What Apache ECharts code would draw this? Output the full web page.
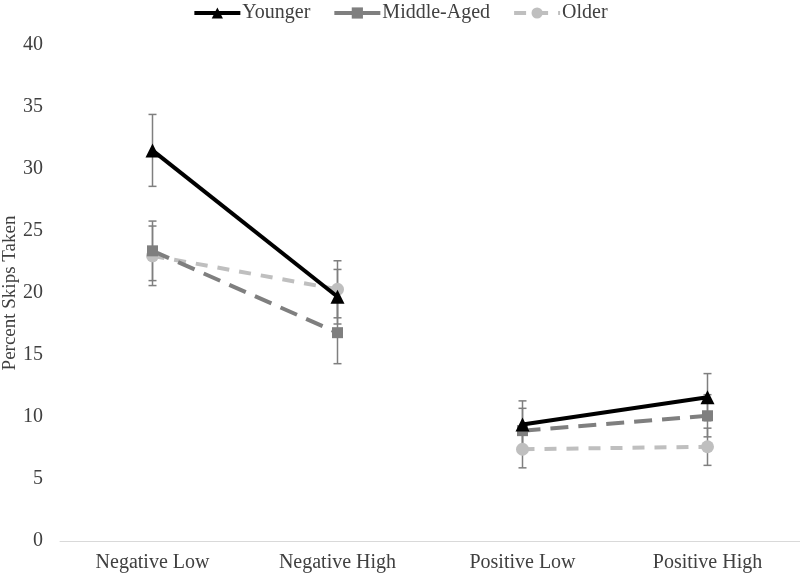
<!DOCTYPE html>
<html>
<head>
<meta charset="utf-8">
<script src="https://cdn.jsdelivr.net/npm/echarts@6/dist/echarts.min.js"></script>
<style>html,body{margin:0;padding:0;background:#fff;}#c{width:800px;height:574px;}</style>
</head>
<body>
<div id="c"></div>
<script>
const categories = ['Negative Low', 'Negative High', 'Positive Low', 'Positive High'];
const groupNames = ['Younger', 'Middle-Aged', 'Older'];
const younger = [31.5, 19.7, 9.4, 11.6];
const youngerErr = [2.9, 2.2, 1.9, 1.9];
const middle = [23.4, 16.8, 8.9, 10.1];
const middleErr = [2.4, 2.5, 1.8, 1.7];
const older = [23.0, 20.3, 7.4, 7.6];
const olderErr = [2.4, 2.3, 1.5, 1.5];
const yTicks = [0, 5, 10, 15, 20, 25, 30, 35, 40];

const font = 'Liberation Serif';
const txt = '#404040';

const styles = [
  {color: '#000000', type: 'solid', symbol: 'triangle', size: 14},
  {color: '#7f7f7f', type: [18, 10], symbol: 'rect', size: 11},
  {color: '#bfbfbf', type: [12, 10], symbol: 'circle', size: 13}
];
const values = [younger, middle, older];
const errs = [youngerErr, middleErr, olderErr];

const series = [];
values.forEach((vals, g) => {
  series.push({
    type: 'custom',
    z: 1,
    silent: true,
    data: vals.map((v, i) => [i, v - errs[g][i], v + errs[g][i]]),
    renderItem: function (params, api) {
      const lo = api.coord([api.value(0), api.value(1)]);
      const hi = api.coord([api.value(0), api.value(2)]);
      const w = 4;
      const st = {stroke: '#7f7f7f', lineWidth: 1.5};
      return {type: 'group', children: [
        {type: 'line', shape: {x1: lo[0], y1: lo[1], x2: hi[0], y2: hi[1]}, style: st},
        {type: 'line', shape: {x1: lo[0] - w, y1: lo[1], x2: lo[0] + w, y2: lo[1]}, style: st},
        {type: 'line', shape: {x1: hi[0] - w, y1: hi[1], x2: hi[0] + w, y2: hi[1]}, style: st}
      ]};
    }
  });
});
values.forEach((vals, g) => {
  const s = styles[g];
  [[0, 1], [2, 3]].forEach(seg => {
    series.push({
      name: groupNames[g],
      type: 'line',
      z: 5 - g,
      data: vals.map((v, i) => seg.includes(i) ? v : '-'),
      symbol: s.symbol,
      symbolSize: s.size,
      showSymbol: true,
      connectNulls: false,
      lineStyle: {color: s.color, width: 4, type: s.type},
      itemStyle: {color: s.color},
      emphasis: {disabled: true},
      animation: false
    });
  });
});

const chart = echarts.init(document.getElementById('c'));
chart.setOption({
  animation: false,
  backgroundColor: '#ffffff',
  textStyle: {fontFamily: font},
  legend: {
    data: groupNames,
    top: -2,
    left: 'center',
    itemWidth: 46,
    itemHeight: 14,
    itemGap: 22,
    lineStyle: {width: 4},
    textStyle: {fontFamily: font, fontSize: 20, color: txt, padding: [0, 0, 0, -3]}
  },
  grid: {left: 60, right: 0, top: 45, bottom: 33, containLabel: false, outerBoundsMode: 'none'},
  xAxis: {
    type: 'category',
    data: categories,
    boundaryGap: true,
    axisLine: {lineStyle: {color: '#d9d9d9', width: 1}},
    axisTick: {show: false},
    axisLabel: {fontFamily: font, fontSize: 20, color: txt, margin: 12}
  },
  yAxis: {
    type: 'value',
    min: 0,
    max: 40,
    interval: 5,
    name: 'Percent Skips Taken',
    nameLocation: 'middle',
    nameGap: 40,
    nameMoveOverlap: false,
    nameTextStyle: {fontFamily: font, fontSize: 19, color: txt},
    axisLine: {show: false},
    axisTick: {show: false},
    splitLine: {show: false},
    axisLabel: {fontFamily: font, fontSize: 20, color: txt, margin: 17,
      formatter: v => yTicks.includes(v) ? String(v) : ''}
  },
  series: series
});
</script>
</body>
</html>
